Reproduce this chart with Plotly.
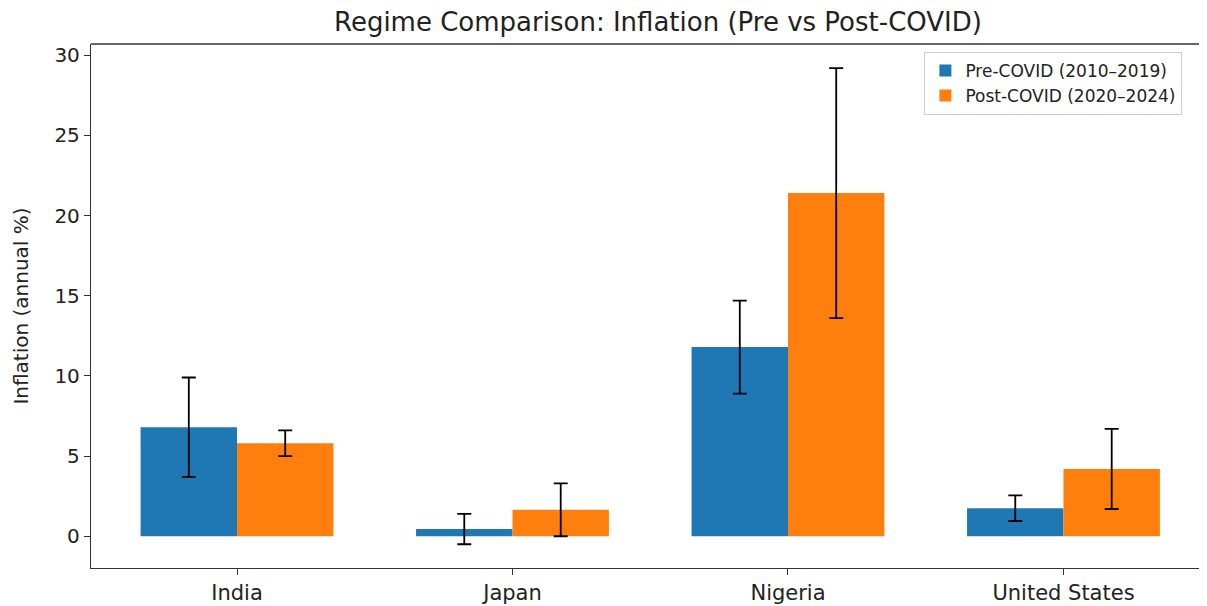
import plotly.graph_objects as go

countries = ["India", "Japan", "Nigeria", "United States"]
pre_mean = [6.8, 0.45, 11.8, 1.75]
pre_std = [3.1, 0.95, 2.9, 0.8]
post_mean = [5.8, 1.65, 21.4, 4.2]
post_std = [0.8, 1.65, 7.8, 2.5]
y_ticks = [0, 5, 10, 15, 20, 25, 30]

fig = go.Figure()
fig.add_trace(go.Bar(
    x=countries, y=pre_mean, name="Pre-COVID (2010\u20132019)",
    marker=dict(color="#1f77b4", line=dict(width=0)),
    error_y=dict(type="data", array=pre_std, visible=True, color="black", thickness=1.8, width=7),
))
fig.add_trace(go.Bar(
    x=countries, y=post_mean, name="Post-COVID (2020\u20132024)",
    marker=dict(color="#ff7f0e", line=dict(width=0)),
    error_y=dict(type="data", array=post_std, visible=True, color="black", thickness=1.8, width=7),
))

fig.update_layout(
    width=1207, height=606,
    margin=dict(l=83, r=0, t=36, b=46),
    paper_bgcolor="white", plot_bgcolor="white",
    barmode="group", bargap=0.3, bargroupgap=0,
    font=dict(family="DejaVu Sans", color="#222222"),
    title=dict(text="Regime Comparison: Inflation (Pre vs Post-COVID)",
               xref="container", x=0.5385, xanchor="center", y=0.977, yanchor="middle",
               font=dict(size=26, color="#222222")),
    legend=dict(x=0.971, y=0.985, xanchor="right", yanchor="top",
                bgcolor="rgba(255,255,255,0.8)", bordercolor="#cccccc", borderwidth=1,
                font=dict(size=17), tracegroupgap=0),
    showlegend=True,
    shapes=[dict(type="line", xref="paper", yref="paper", x0=0, x1=1.05, y0=1, y1=1,
                 line=dict(color="#333333", width=1.3))],
)
fig.update_xaxes(
    range=[-0.530, 3.550], showline=True, linecolor="#333333", linewidth=1.3, mirror=False,
    ticks="outside", ticklen=6, tickcolor="#333333", tickfont=dict(size=21, color="#222222"),
    showgrid=False, zeroline=False, automargin=False,
)
fig.update_yaxes(
    range=[-1.98, 30.7], tickvals=y_ticks, showline=True, linecolor="#333333", linewidth=1.3,
    ticks="outside", ticklen=6, tickcolor="#333333", tickfont=dict(size=20, color="#222222"),
    showgrid=False, zeroline=False, automargin=False,
    title=dict(text="Inflation (annual %)", font=dict(size=20, color="#222222"), standoff=20),
)

fig.write_html("out.html")
